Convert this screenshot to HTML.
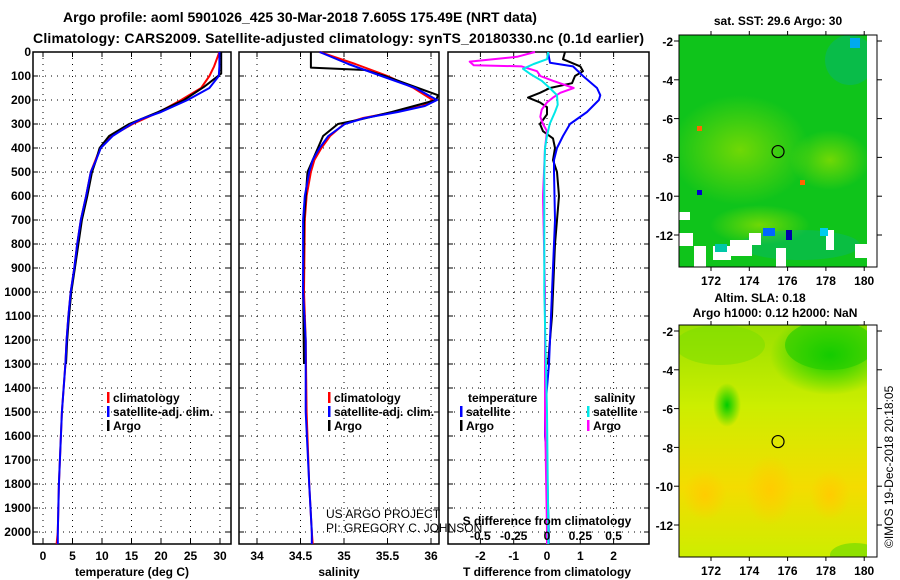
<!DOCTYPE html>
<html><head><meta charset="utf-8"><style>
html,body{margin:0;padding:0;background:#fff;}
svg{display:block;font-family:"Liberation Sans",sans-serif;}
.b{font-weight:bold;font-size:12px;fill:#000;}
.t{font-weight:bold;font-size:14px;fill:#000;}
</style></head><body>
<svg id="chart" width="900" height="580" viewBox="0 0 900 580">
<defs>
<radialGradient id="sy1" cx="0.5" cy="0.5" r="0.5"><stop offset="0" stop-color="#ffcc00"/><stop offset="1" stop-color="#ffcc00" stop-opacity="0"/></radialGradient>
<radialGradient id="sg1" cx="0.5" cy="0.5" r="0.5"><stop offset="0" stop-color="#00cc00"/><stop offset="1" stop-color="#00cc00" stop-opacity="0"/></radialGradient>
<linearGradient id="slaBase" x1="0" y1="0" x2="0" y2="1"><stop offset="0" stop-color="#99e000"/><stop offset="0.35" stop-color="#ccee00"/><stop offset="0.7" stop-color="#f4dc00"/><stop offset="1" stop-color="#ccee00"/></linearGradient>
<radialGradient id="sstY" cx="0.5" cy="0.5" r="0.5"><stop offset="0" stop-color="#88dd00" stop-opacity="0.8"/><stop offset="1" stop-color="#88dd00" stop-opacity="0"/></radialGradient>
<clipPath id="clip1"><rect x="679" y="35" width="198" height="232"/></clipPath>
<clipPath id="clip2"><rect x="679" y="325" width="198" height="232"/></clipPath>
</defs>
<g id="root"></g>
</svg>
<script>
// ---------- data ----------
const depthTicks=[0,100,200,300,400,500,600,700,800,900,1000,1100,1200,1300,1400,1500,1600,1700,1800,1900,2000];
const tempTicks=[0,5,10,15,20,25,30];
const salTicks=[34,34.5,35,35.5,36];
const tdiffTicks=[-2,-1,0,1,2];
const sdiffTicks=[-0.5,-0.25,0,0.25,0.5];
const latTicks=[-2,-4,-6,-8,-10,-12];
const lonTicks=[172,174,176,178,180];

const tDepth=[0,60,100,150,200,250,280,300,350,400,450,500,600,700,800,900,1000,1100,1200,1300,1500,1800,2000,2050];
const tClim=[29.9,29.0,28.2,26.8,23.4,19.7,17.0,15.2,11.6,9.7,8.9,8.1,7.3,6.4,5.8,5.3,4.7,4.3,4.0,3.8,3.2,2.7,2.5,2.3];
const tSat=[29.9,29.9,29.8,28.2,24.5,20.0,16.6,15.0,11.8,9.8,9.0,8.1,7.3,6.4,5.8,5.3,4.7,4.3,4.0,3.8,3.2,2.7,2.5,2.5];
const aDepth=[0,90,145,200,250,300,350,400,450,500,600,700,800,900,1000,1100,1200,1300];
const tArgo=[30.2,30.2,27.3,23.9,19.5,14.6,11.2,9.6,9.0,8.3,7.5,6.6,6.0,5.4,4.8,4.4,4.1,3.9];

const sDepth=[0,50,100,150,200,225,250,275,300,350,400,450,500,600,700,1000,1200,1500,1800,2000,2050];
const sClim=[34.72,35.13,35.50,35.80,36.02,35.90,35.58,35.22,35.00,34.84,34.74,34.66,34.62,34.57,34.55,34.54,34.56,34.57,34.60,34.63,34.64];
const sSat=[34.72,35.05,35.43,35.82,36.07,35.93,35.62,35.24,35.01,34.82,34.72,34.64,34.60,34.55,34.53,34.53,34.56,34.56,34.60,34.63,34.63];
const saDepth=[0,65,75,100,150,180,200,250,280,300,350,400,500,700,1000,1300];
const sArgo=[34.62,34.62,35.24,35.47,35.85,36.08,36.06,35.55,35.20,34.93,34.76,34.70,34.58,34.54,34.53,34.54];

const dDepthB=[0,45,60,100,150,180,200,250,300,350,400,450,500,700,1000,1300,1500,1600,1700,2000,2050];
const dTSat=[0.03,0.09,0.78,1.08,1.5,1.6,1.56,1.2,0.69,0.48,0.3,0.21,0.21,0.24,0.15,0.06,-0.06,-0.06,0,0.05,0.05];
const dDepthK=[0,30,60,80,100,130,150,170,190,210,230,260,300,330,360,400,450,500,600,700,800,1000,1100,1200,1300];
const dTArgo=[0.54,0.48,1.0,1.08,0.84,0.75,0.09,-0.21,-0.57,-0.21,0,0,-0.21,-0.12,0.18,0.24,0.18,0.3,0.36,0.3,0.24,0.18,0.15,0.09,0.03];
const dDepthM=[0,20,40,55,60,80,100,120,150,170,190,210,240,270,300,330,400,600,1000,1500,2000,2050];
const dSArgo=[-0.09,-0.225,-0.58,-0.55,-0.19,-0.075,-0.05,0.045,0.2,0.1,0.045,0,-0.04,-0.05,-0.03,0,-0.015,-0.03,-0.015,-0.015,0,0];
const dDepthC=[0,30,50,70,90,120,150,180,220,250,300,350,400,500,1000,1500,2000,2050];
const dSSat=[0.01,0,-0.1,-0.18,-0.13,-0.04,0.02,0.075,0.08,0.06,0.02,0,-0.015,-0.02,-0.02,0,0.01,0.01];

// ---------- helpers ----------
const NS='http://www.w3.org/2000/svg';
const root=document.getElementById('root');
function mk(tag,attrs,parent){const e=document.createElementNS(NS,tag);for(const k in attrs)e.setAttribute(k,attrs[k]);(parent||root).appendChild(e);return e;}
function txt(x,y,s,cls,anchor,parent){const e=mk('text',{x:x,y:y,class:cls,'text-anchor':anchor||'start'},parent);e.textContent=s;return e;}
const Y=d=>52+d*0.24;
const PTOP=52,PBOT=544;
const xT=t=>43+t*5.9;
const xS=s=>257+(s-34)*87;
const xDT=v=>547+v*33.3;
const xDS=v=>547+v*133.3;

function panel(x0,x1,name){
  const g=mk('g',{});
  
  
  return g;
}
function grid(g,x0,x1,xs){
  depthTicks.forEach(d=>{if(d>0){mk('line',{x1:x0,x2:x1,y1:Y(d),y2:Y(d),stroke:'#000','stroke-width':1,'stroke-dasharray':'1 5'},g);
    mk('line',{x1:x0,x2:x0+5,y1:Y(d),y2:Y(d),stroke:'#000'},g);mk('line',{x1:x1-5,x2:x1,y1:Y(d),y2:Y(d),stroke:'#000'},g);}});
  xs.forEach(x=>{mk('line',{x1:x,x2:x,y1:PTOP,y2:PBOT,stroke:'#000','stroke-width':1,'stroke-dasharray':'1 5'},g);
    mk('line',{x1:x,x2:x,y1:PTOP,y2:PTOP+5,stroke:'#000'},g);mk('line',{x1:x,x2:x,y1:PBOT-5,y2:PBOT,stroke:'#000'},g);});
  mk('rect',{x:x0,y:PTOP,width:x1-x0,height:PBOT-PTOP,fill:'none',stroke:'#000','stroke-width':1.5},g);
}
function line(g,depths,vals,xf,color,name,w){
  const pts=depths.map((d,i)=>xf(vals[i]).toFixed(1)+','+Y(Math.min(d,2050)).toFixed(1)).join(' ');
  const p=mk('polyline',{points:pts,fill:'none',stroke:color,'stroke-width':w||2,'stroke-linejoin':'round'},g);
  
  
  return p;
}
function legendEntry(g,x,y,color,label,name){
  const e=mk('g',{},g);
  
  
  mk('rect',{x:x-1,y:y-10,width:2.5,height:11,fill:color},e);
  txt(x+5,y,label,'b','start',e);
}

// titles
const t1=txt(300,22,'Argo profile: aoml 5901026_425 30-Mar-2018 7.605S 175.49E (NRT data)','t','middle');


const t2=txt(33,43,'Climatology: CARS2009. Satellite-adjusted climatology: synTS_20180330.nc (0.1d earlier)','t','start');
t2.setAttribute('textLength','611');



// depth labels
depthTicks.forEach(d=>{const l=txt(31,Y(d)+4,String(d),'b','end');
  
  });

// panel 1: temperature
const p1=panel(33,231,'temperature-panel');
grid(p1,33,231,tempTicks.map(xT));
line(p1,tDepth,tClim,xT,'#ff0000','temp-climatology-line');
line(p1,aDepth,tArgo,xT,'#000000','temp-argo-line');
line(p1,tDepth,tSat,xT,'#0000ff','temp-satellite-line');
tempTicks.forEach(t=>{const l=txt(xT(t),560,String(t),'b','middle',p1);
  
  });
const xl1=txt(132,576,'temperature (deg C)','b','middle',p1);


legendEntry(p1,108,402,'#ff0000','climatology','legend-climatology');
legendEntry(p1,108,416,'#0000ff','satellite-adj. clim.','legend-satellite-adj');
legendEntry(p1,108,430,'#000000','Argo','legend-argo');

// panel 2: salinity
const p2=panel(239,439,'salinity-panel');
grid(p2,239,439,salTicks.map(xS));
line(p2,sDepth,sClim,xS,'#ff0000','sal-climatology-line');
line(p2,saDepth,sArgo,xS,'#000000','sal-argo-line');
line(p2,sDepth,sSat,xS,'#0000ff','sal-satellite-line');
salTicks.forEach(s=>{const l=txt(xS(s),560,String(s),'b','middle',p2);
  
  });
const xl2=txt(339,576,'salinity','b','middle',p2);


legendEntry(p2,329,402,'#ff0000','climatology','legend2-climatology');
legendEntry(p2,329,416,'#0000ff','satellite-adj. clim.','legend2-satellite-adj');
legendEntry(p2,329,430,'#000000','Argo','legend2-argo');
const us=mk('g',{},p2);


txt(326,518,'US ARGO PROJECT','','start',us).setAttribute('style','font-size:12px;fill:#000');
txt(326,532,'PI: GREGORY C. JOHNSON','','start',us).setAttribute('style','font-size:12px;fill:#000');

// panel 3: differences
const p3=panel(448,649,'difference-panel');
grid(p3,448,649,tdiffTicks.map(xDT));
line(p3,dDepthK,dTArgo,xDT,'#000000','tdiff-argo-line');
line(p3,dDepthB,dTSat,xDT,'#0000ff','tdiff-satellite-line');
line(p3,dDepthM,dSArgo,xDS,'#ff00ff','sdiff-argo-line');
line(p3,dDepthC,dSSat,xDS,'#00e8e8','sdiff-satellite-line');
tdiffTicks.forEach(v=>{const l=txt(xDT(v),560,String(v),'b','middle',p3);
  
  });
sdiffTicks.forEach(v=>{const l=txt(xDS(v),540,String(v),'b','middle',p3);
  
  });
const xl3=txt(547,576,'T difference from climatology','b','middle',p3);


const xl4=txt(547,525,'S difference from climatology','b','middle',p3);


const lg3=txt(468,402,'temperature','b','start',p3);


legendEntry(p3,461,416,'#0000ff','satellite','legend-t-satellite');
legendEntry(p3,461,430,'#000000','Argo','legend-t-argo');
const lg4=txt(594,402,'salinity','b','start',p3);


legendEntry(p3,588,416,'#00e8e8','satellite','legend-s-satellite');
legendEntry(p3,588,430,'#ff00ff','Argo','legend-s-argo');

// ---------- maps ----------
function mapFrame(top,name,clip){
  const g=mk('g',{});
  
  
  const img=mk('g',{'clip-path':'url(#'+clip+')'},g);
  const yy=lat=>top+6+(-2-lat)*19.4;
  const xx=lon=>711+(lon-172)*19.15;
  return {g,img,yy,xx};
}
function mapAxes(m,top,bot){
  mk('rect',{x:867,y:top,width:10,height:bot-top,fill:'#fff'},m.g);
  mk('rect',{x:679,y:top,width:198,height:bot-top,fill:'none',stroke:'#000','stroke-width':1},m.g);
  latTicks.forEach(l=>{const y=m.yy(l);
    mk('line',{x1:679,x2:674,y1:y,y2:y,stroke:'#000'},m.g);mk('line',{x1:877,x2:882,y1:y,y2:y,stroke:'#000'},m.g);
    const t=txt(673,y+5,String(l),'b','end',m.g);
    
    });
  lonTicks.forEach(l=>{const x=m.xx(l);
    mk('line',{x1:x,x2:x,y1:top,y2:top-4,stroke:'#000'},m.g);mk('line',{x1:x,x2:x,y1:bot,y2:bot+4,stroke:'#000'},m.g);
    const t=txt(x,bot+18,String(l),'b','middle',m.g);
    
    });
  const c=mk('circle',{cx:m.xx(175.5),cy:m.yy(-7.7),r:6,fill:'none',stroke:'#000','stroke-width':1.2},m.g);
  
  
}
// SST map
const m1=mapFrame(35,'sst-map','clip1');
mk('rect',{x:679,y:35,width:198,height:232,fill:'#14c814'},m1.img);
mk('rect',{x:679,y:35,width:198,height:232,fill:'#00b830',opacity:0.25},m1.img);
mk('ellipse',{cx:740,cy:150,rx:70,ry:55,fill:'url(#sstY)'},m1.img);
mk('ellipse',{cx:830,cy:160,rx:40,ry:30,fill:'url(#sstY)'},m1.img);
mk('ellipse',{cx:760,cy:225,rx:50,ry:20,fill:'url(#sstY)'},m1.img);
mk('ellipse',{cx:850,cy:60,rx:25,ry:25,fill:'#00b0a0',opacity:0.35},m1.img);
mk('ellipse',{cx:800,cy:245,rx:60,ry:15,fill:'#00b0a0',opacity:0.3},m1.img);
[[679,212,11,8],[679,233,14,13],[694,246,12,21],[713,246,18,14],[730,240,22,16],[749,233,12,12],[776,248,10,19],[826,230,8,20],[855,244,12,14]].forEach(r=>mk('rect',{x:r[0],y:r[1],width:r[2],height:r[3],fill:'#fff'},m1.img));
[[763,228,12,8,'#0066ff'],[786,230,6,10,'#0000aa'],[820,228,8,8,'#00ccee'],[715,244,12,8,'#00c8a8'],[697,126,5,5,'#ff6600'],[800,180,5,5,'#ff6600'],[697,190,5,5,'#0000cc'],[850,38,10,10,'#00aaee']].forEach(r=>mk('rect',{x:r[0],y:r[1],width:r[2],height:r[3],fill:r[4]},m1.img));
mapAxes(m1,35,267);
const mt1=txt(778,25,'sat. SST: 29.6 Argo: 30','b','middle');



// SLA map
const m2=mapFrame(325,'sla-map','clip2');
mk('rect',{x:679,y:325,width:198,height:232,fill:'url(#slaBase)'},m2.img);
mk('ellipse',{cx:830,cy:355,rx:60,ry:40,fill:'url(#sg1)'},m2.img);
mk('ellipse',{cx:830,cy:345,rx:45,ry:25,fill:'#22cc00',opacity:0.6},m2.img);
mk('ellipse',{cx:720,cy:345,rx:45,ry:20,fill:'#77dd00',opacity:0.5},m2.img);
mk('ellipse',{cx:727,cy:405,rx:14,ry:22,fill:'url(#sg1)'},m2.img);
mk('ellipse',{cx:770,cy:490,rx:25,ry:35,fill:'url(#sy1)'},m2.img);
mk('ellipse',{cx:705,cy:495,rx:22,ry:25,fill:'url(#sy1)'},m2.img);
mk('ellipse',{cx:830,cy:495,rx:20,ry:25,fill:'url(#sy1)'},m2.img);
mk('ellipse',{cx:855,cy:555,rx:25,ry:12,fill:'#66d800',opacity:0.6},m2.img);
mapAxes(m2,325,557);
const mt2=txt(760,302,'Altim. SLA: 0.18','b','middle');


const mt3=txt(775,317,'Argo h1000: 0.12 h2000: NaN','b','middle');



const im=mk('text',{x:0,y:0,transform:'translate(893,548) rotate(-90)',style:'font-size:12px;fill:#000'});
im.textContent='©IMOS 19-Dec-2018 20:18:05';


</script>
</body></html>
